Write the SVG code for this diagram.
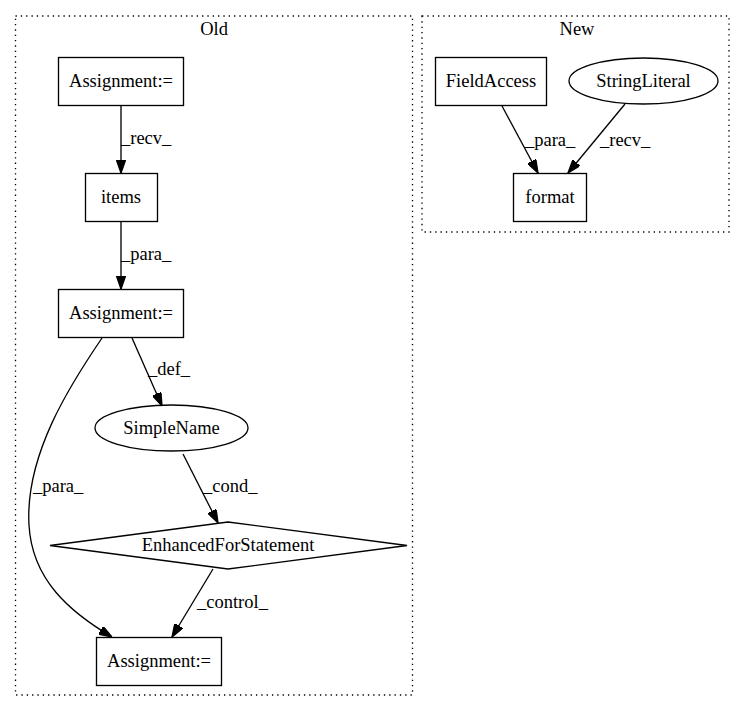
<svg xmlns="http://www.w3.org/2000/svg" width="745" height="712" viewBox="0 0 745 712">
<style>
text{font-family:"Liberation Serif","Times New Roman",serif;font-size:18.5px;fill:#000}
.t{text-anchor:middle}
.n{fill:none;stroke:#000;stroke-width:1.33}
.c{fill:none;stroke:#000;stroke-width:1.33;stroke-dasharray:1.33,4}
.e{fill:none;stroke:#000;stroke-width:1.33;marker-end:url(#a)}
</style>
<defs>
<marker id="a" viewBox="0 0 10 7" refX="10" refY="3.5" markerWidth="13.3" markerHeight="9.3" markerUnits="userSpaceOnUse" orient="auto">
<path d="M0,0 L10,3.5 L0,7 Z" fill="#000" stroke="#000" stroke-width="1"/>
</marker>
</defs>
<rect width="745" height="712" fill="#fff"/>
<g id="cluster_old">
<rect class="c" x="15.5" y="16" width="397" height="679"/>
<text class="t" x="214" y="35">Old</text>
</g>
<g id="cluster_new">
<rect class="c" x="422" y="16" width="307" height="216"/>
<text class="t" x="577" y="35">New</text>
</g>
<g id="edges">
<path class="e" d="M121,105 L121,173"/>
<text x="121" y="144">_recv_</text>
<path class="e" d="M121,221 L121,289"/>
<text x="121" y="260">_para_</text>
<path class="e" d="M132,338 L162,406"/>
<text x="148" y="375">_def_</text>
<path class="e" d="M102,338 C70,385 25,455 29,525 C32,580 70,612 112,637"/>
<text x="33" y="492">_para_</text>
<path class="e" d="M183,454 L218,523"/>
<text x="203" y="492">_cond_</text>
<path class="e" d="M213,569 L172,637"/>
<text x="197" y="608">_control_</text>
<path class="e" d="M502,106 L538,173"/>
<text x="525" y="146">_para_</text>
<path class="e" d="M625,104 L568,173"/>
<text x="600" y="146">_recv_</text>
</g>
<g id="node_assign1">
<rect class="n" x="58.5" y="57.5" width="125" height="48"/>
<text class="t" x="121" y="87">Assignment:=</text>
</g>
<g id="node_items">
<rect class="n" x="85.5" y="173.5" width="72" height="48"/>
<text class="t" x="121" y="203">items</text>
</g>
<g id="node_assign2">
<rect class="n" x="58.5" y="289.5" width="125" height="48"/>
<text class="t" x="121" y="319">Assignment:=</text>
</g>
<g id="node_simplename">
<ellipse class="n" cx="171.5" cy="428" rx="76.5" ry="23"/>
<text class="t" x="171.5" y="434">SimpleName</text>
</g>
<g id="node_enhancedfor">
<polygon class="n" points="228,522 407,545.5 228,569 50,545.5"/>
<text class="t" x="228" y="551">EnhancedForStatement</text>
</g>
<g id="node_assign3">
<rect class="n" x="96.5" y="637.5" width="125" height="48"/>
<text class="t" x="159" y="667">Assignment:=</text>
</g>
<g id="node_fieldaccess">
<rect class="n" x="435.5" y="57.5" width="111" height="48"/>
<text class="t" x="491" y="87">FieldAccess</text>
</g>
<g id="node_stringliteral">
<ellipse class="n" cx="643.5" cy="81" rx="74.5" ry="23"/>
<text class="t" x="643.5" y="87">StringLiteral</text>
</g>
<g id="node_format">
<rect class="n" x="513.5" y="173.5" width="73" height="48"/>
<text class="t" x="550" y="203">format</text>
</g>
</svg>
